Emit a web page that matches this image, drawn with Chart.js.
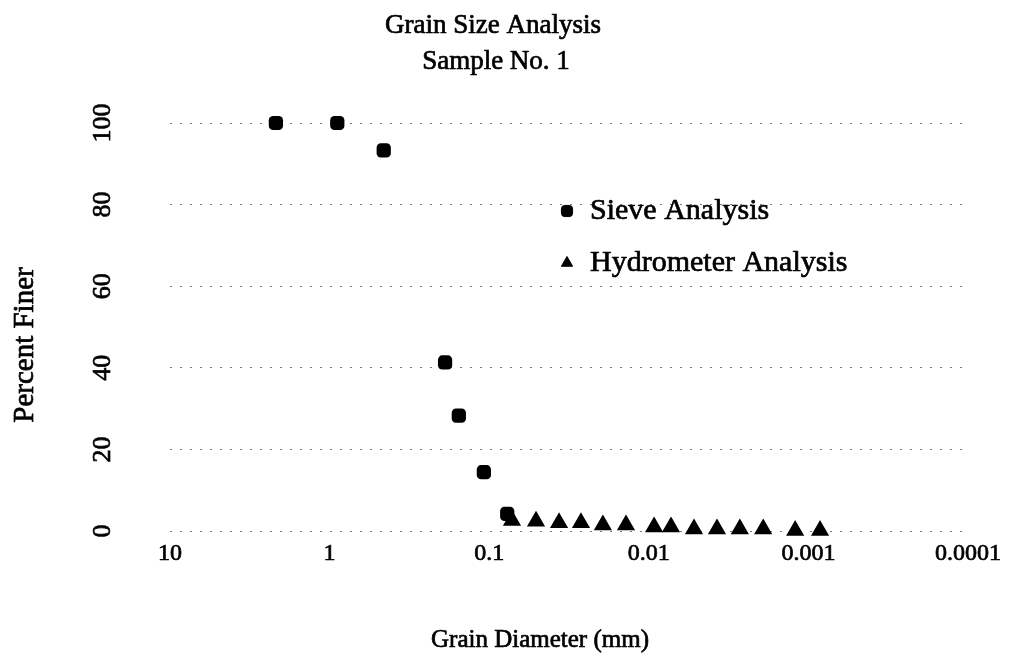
<!DOCTYPE html>
<html><head><meta charset="utf-8">
<script src="https://cdn.jsdelivr.net/npm/chart.js@4.4.0/dist/chart.umd.min.js"></script>
<style>html,body{margin:0;padding:0;background:#fff}#wrap{width:1020px;height:663px}</style>
</head><body><div id="wrap"><canvas id="c" width="1020" height="663"></canvas></div>
<script>
const chartTitle = ['Grain Size Analysis', 'Sample No. 1'];
const xAxisTitle = 'Grain Diameter (mm)';
const yAxisTitle = 'Percent Finer';
const xTickValues = [10, 1, 0.1, 0.01, 0.001, 0.0001];
const xTickLabels = ['10', '1', '0.1', '0.01', '0.001', '0.0001'];
const yTickValues = [0, 20, 40, 60, 80, 100];
const sieveLabel = 'Sieve Analysis';
const sieveDiameter = [2.17, 0.895, 0.458, 0.189, 0.155, 0.108, 0.0771];
const sievePercent = [100, 100, 93.3, 41.3, 28.3, 14.4, 4.2];
const hydroLabel = 'Hydrometer Analysis';
const hydroDiameter = [0.0720, 0.0509, 0.0365, 0.0266, 0.0194, 0.0139, 0.00927, 0.00726, 0.00521, 0.00374, 0.00269, 0.00192, 0.00121, 0.000845];
const hydroPercent = [2.6, 2.4, 2.0, 2.0, 1.5, 1.5, 1.0, 1.0, 0.5, 0.5, 0.5, 0.5, 0.1, 0.1];

const FONT = "'Liberation Serif', 'Times New Roman', serif";

const toPoints = (xs, ys) => xs.map((x, i) => ({x: x, y: ys[i]}));

function heavyText(ctx, s, x, y) {
  ctx.strokeText(s, x, y);
  ctx.fillText(s, x, y);
}

const textPlugin = {
  id: 'texts',
  afterDraw(chart) {
    const ctx = chart.ctx;
    ctx.save();
    ctx.fillStyle = '#000';
    ctx.strokeStyle = '#000';
    ctx.lineWidth = 0.7;
    ctx.lineJoin = 'round';
    ctx.textAlign = 'center';
    ctx.textBaseline = 'middle';
    ctx.font = '27px ' + FONT;
    heavyText(ctx, chartTitle[0], 493, 26);
    heavyText(ctx, chartTitle[1], 496, 62);
    ctx.font = '25px ' + FONT;
    heavyText(ctx, xAxisTitle, 540, 640);
    ctx.save();
    ctx.translate(25, 345);
    ctx.rotate(-Math.PI / 2);
    ctx.font = '29px ' + FONT;
    heavyText(ctx, yAxisTitle, 0, 0);
    ctx.restore();
    // legend inside plot
    const items = chart.data.datasets;
    const lx = 567, ly = [211, 263];
    ctx.font = '30px ' + FONT;
    ctx.textAlign = 'left';
    items.forEach((ds, i) => {
      ctx.lineWidth = 1;
      Chart.helpers.drawPoint(ctx, {pointStyle: ds.pointStyle, radius: 6.5, borderWidth: 1, rotation: 0}, lx, ly[i]);
      ctx.lineWidth = 0.7;
      heavyText(ctx, ds.label, 590, ly[i]);
    });
    ctx.restore();
  }
};

new Chart(document.getElementById('c'), {
  type: 'scatter',
  data: {
    datasets: [
      {label: sieveLabel, data: toPoints(sieveDiameter, sievePercent), pointStyle: 'rectRounded', pointRadius: 8.3, pointHoverRadius: 8.3, backgroundColor: '#000', borderColor: '#000', borderWidth: 0, clip: false},
      {label: hydroLabel, data: toPoints(hydroDiameter, hydroPercent), pointStyle: 'triangle', pointRadius: 9, pointHoverRadius: 9, backgroundColor: '#000', borderColor: '#000', borderWidth: 1.5, clip: false}
    ]
  },
  options: {
    responsive: false,
    animation: false,
    devicePixelRatio: 1,
    layout: {padding: {top: 123, bottom: 62, left: 0, right: 52}},
    plugins: {legend: {display: false}, title: {display: false}, tooltip: {enabled: false}},
    scales: {
      x: {
        type: 'logarithmic',
        reverse: true,
        min: 0.0001,
        max: 10,
        afterBuildTicks: (s) => { s.ticks = xTickValues.map(v => ({value: v})); },
        afterFit: (s) => { s.height = 70; },
        grid: {display: false, drawTicks: false},
        border: {display: false},
        ticks: {
          autoSkip: false, maxRotation: 0, minRotation: 0, padding: 8, color: '#000',
          textStrokeColor: '#000', textStrokeWidth: 0.7,
          font: {family: FONT, size: 24},
          callback: (v, i) => xTickLabels[i]
        }
      },
      y: {
        min: 0,
        max: 100,
        afterBuildTicks: (s) => { s.ticks = yTickValues.map(v => ({value: v})); },
        afterFit: (s) => { s.width = 170; },
        grid: {color: '#777', lineWidth: 1, drawTicks: false},
        border: {display: false, dash: [2, 8]},
        ticks: {
          minRotation: 90, maxRotation: 90, crossAlign: 'center', padding: 47, color: '#000',
          textStrokeColor: '#000', textStrokeWidth: 0.7,
          font: {family: FONT, size: 26}
        }
      }
    }
  },
  plugins: [textPlugin]
});
</script></body></html>
